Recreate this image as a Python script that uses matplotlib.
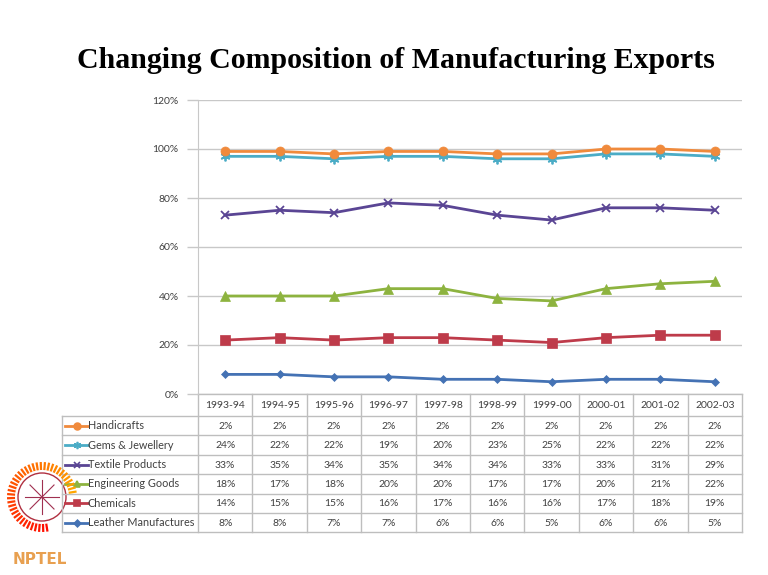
import numpy as np
import matplotlib.pyplot as plt

years = ["1993-94", "1994-95", "1995-96", "1996-97", "1997-98",
         "1998-99", "1999-00", "2000-01", "2001-02", "2002-03"]

# shares of manufacturing exports (%), stacked bottom to top
leather = [8, 8, 7, 7, 6, 6, 5, 6, 6, 5]
chemicals = [14, 15, 15, 16, 17, 16, 16, 17, 18, 19]
engineering = [18, 17, 18, 20, 20, 17, 17, 20, 21, 22]
textile = [33, 35, 34, 35, 34, 34, 33, 33, 31, 29]
gems = [24, 22, 22, 19, 20, 23, 25, 22, 22, 22]
handicrafts = [2, 2, 2, 2, 2, 2, 2, 2, 2, 2]

series = [
    ("Leather Manufactures", leather, "#4472B4", "D", 4.5),
    ("Chemicals", chemicals, "#BE3B4A", "s", 6.5),
    ("Engineering Goods", engineering, "#8DB33F", "^", 6.5),
    ("Textile Products", textile, "#5A4594", "x", 5.5),
    ("Gems & Jewellery", gems, "#4BACC6", (6, 2, 0), 7),
    ("Handicrafts", handicrafts, "#F08A3C", "o", 6.5),
]

W, H = 768, 575
fig = plt.figure(figsize=(W / 100, H / 100), dpi=100)
fig.patch.set_facecolor("white")

# plot area in pixel terms
x0, x1, y_top, y_bot = 198, 742, 100, 394
ax = fig.add_axes([x0 / W, 1 - y_bot / H, (x1 - x0) / W, (y_bot - y_top) / H])
ax.set_facecolor("none")
ax.set_xlim(-0.5, len(years) - 0.5)
ax.set_ylim(0, 120)

grid_c = "#C8C8C8"
ax.set_yticks(range(0, 121, 20))
ax.set_yticklabels([f"{v}%" for v in range(0, 121, 20)], fontsize=7.5,
                   color="#404040", family="Lato")
ax.tick_params(axis="y", length=8, width=1, color=grid_c, pad=6)
ax.set_xticks([])
ax.grid(axis="y", color=grid_c, linewidth=1)
for side in ("top", "right", "bottom"):
    ax.spines[side].set_visible(False)
ax.spines["left"].set_color(grid_c)
ax.set_axisbelow(True)

x = np.arange(len(years))
base = np.zeros(len(years))
for name, vals, color, marker, ms in series:
    base = base + np.array(vals)
    thin = marker == "x" or isinstance(marker, tuple)
    ax.plot(x, base, color=color, linewidth=2, marker=marker,
            markersize=ms, markeredgewidth=1.3 if thin else 0.5,
            markeredgecolor=color, markerfacecolor=color, zorder=3)

# overlay for the data table and title, in pixel coordinates
ov = fig.add_axes([0, 0, 1, 1], zorder=-1)
ov.set_xlim(0, W)
ov.set_ylim(H, 0)
ov.axis("off")

ov.text(396, 61, "Changing Composition of Manufacturing Exports",
        ha="center", va="center", fontsize=21.5, fontweight="bold",
        family="Liberation Serif", color="black")

col_w = (x1 - x0) / len(years)
head_b = 416
row_h = 19.4
rows = series[::-1]
tab_l = 62
tab_b = head_b + row_h * len(rows)
tc = "#BEBEBE"
txt_c = "#404040"

ov.plot([x0, x1], [y_bot, y_bot], color=tc, lw=1)
for i in range(len(years) + 1):
    xe = x0 + i * col_w
    ov.plot([xe, xe], [y_bot, tab_b], color=tc, lw=1)
ov.plot([tab_l, tab_l], [head_b, tab_b], color=tc, lw=1)
for r in range(len(rows) + 1):
    yy = head_b + r * row_h
    ov.plot([tab_l, x1], [yy, yy], color=tc, lw=1)

for i, yr in enumerate(years):
    ov.text(x0 + (i + 0.5) * col_w, (y_bot + head_b) / 2 + 1, yr,
            ha="center", va="center", fontsize=7.5, color=txt_c, family="Lato")

for r, (name, vals, color, marker, ms) in enumerate(rows):
    yc = head_b + (r + 0.5) * row_h
    ov.plot([65, 88], [yc, yc], color=color, lw=2)
    ov.plot([76.5], [yc], marker=marker, color=color, markersize=ms * 0.75,
            markeredgewidth=1.2)
    ov.text(88, yc, name, ha="left", va="center", fontsize=7.8,
            color=txt_c, family="Lato")
    for i, v in enumerate(vals):
        ov.text(x0 + (i + 0.5) * col_w, yc + 0.5, f"{v}%", ha="center",
                va="center", fontsize=7.5, color=txt_c, family="Lato")

# NPTEL emblem
cx, cy, rad = 42, 497, 27
theta = np.linspace(np.pi * 0.05, np.pi * 1.55, 40)
for k, t in enumerate(theta):
    frac = k / (len(theta) - 1)
    col = plt.cm.autumn_r(0.35 + 0.6 * frac)
    ov.plot([cx + rad * np.cos(t), cx + (rad + 8) * np.cos(t)],
            [cy - rad * np.sin(t), cy - (rad + 8) * np.sin(t)],
            color=col, lw=1.6, solid_capstyle="butt")
circ = plt.Circle((cx, cy), rad - 3, fill=False, ec="#B03040", lw=1)
ov.add_patch(circ)
for a in np.linspace(0, np.pi, 5)[:-1]:
    ov.plot([cx - 17 * np.cos(a), cx + 17 * np.cos(a)],
            [cy - 17 * np.sin(a), cy + 17 * np.sin(a)], color="#A03050", lw=0.8)
ov.text(cx - 2, 559, "NPTEL", ha="center", va="center", fontsize=11,
        fontweight="bold", color="#E8A050", family="DejaVu Sans")

fig.savefig("out.png", dpi=100)
